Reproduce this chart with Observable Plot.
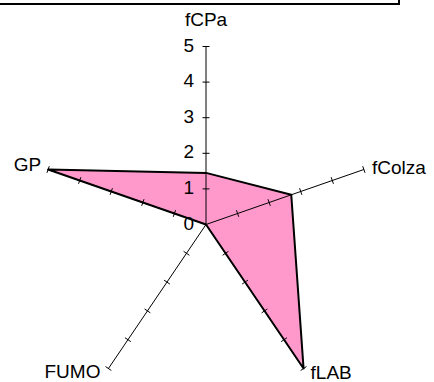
<!DOCTYPE html>
<html>
<head>
<meta charset="utf-8">
<script src="https://cdn.jsdelivr.net/npm/d3@7"></script>
<script src="https://cdn.jsdelivr.net/npm/@observablehq/plot@0.6"></script>
<style>
  html, body { margin: 0; padding: 0; background: #fff; }
  #wrap { position: relative; width: 434px; height: 382px; overflow: hidden; }
  #box { position: absolute; left: -5px; top: -10px; width: 405px; height: 15px; border: 2px solid #000; box-sizing: border-box; }
</style>
</head>
<body>
<div id="wrap"><div id="box"></div><div id="chart"></div></div>
<script>
const axesNames = ["fCPa", "fColza", "fLAB", "FUMO", "GP"];
const seriesValues = [1.45, 2.7, 5, 0, 5];
const tickValues = [0, 1, 2, 3, 4, 5];
const maxValue = 5;

// scales (pixel layout)
const xRange = [39.5, 371.5];
const yRange = [402, 46];
const sx = (xRange[1] - xRange[0]) / (2 * maxValue);
const sy = (yRange[0] - yRange[1]) / (2 * maxValue);

const n = axesNames.length;
const ang = i => i * 2 * Math.PI / n;

const polygon = axesNames.map((name, i) => ({
  name, x: seriesValues[i] * Math.sin(ang(i)), y: seriesValues[i] * Math.cos(ang(i))
}));

const spokes = axesNames.map((name, i) => ({
  name, x2: maxValue * Math.sin(ang(i)), y2: maxValue * Math.cos(ang(i))
}));

const half = 3.5;
const tickMarks = [];
axesNames.forEach((name, i) => {
  const t = ang(i);
  const dx = sx * Math.sin(t), dy = -sy * Math.cos(t);
  const len = Math.hypot(dx, dy);
  const px = -dy / len, py = dx / len; // pixel perpendicular
  const ox = px * half / sx, oy = -py * half / sy; // data units
  tickValues.filter(v => v > 0).forEach(v => {
    const cx = v * Math.sin(t), cy = v * Math.cos(t);
    tickMarks.push({x1: cx - ox, y1: cy - oy, x2: cx + ox, y2: cy + oy});
  });
});

const labelStyle = [
  {textAnchor: "middle", dx: 0, dy: -27},
  {textAnchor: "start", dx: 8, dy: -2},
  {textAnchor: "start", dx: 7, dy: 4},
  {textAnchor: "end", dx: -8, dy: 3},
  {textAnchor: "end", dx: -7, dy: -5}
];

const font = "'Liberation Sans', Arial, sans-serif";
const fs = 19;

const chart = Plot.plot({
  width: 434,
  height: 382,
  margin: 0,
  x: {domain: [-maxValue, maxValue], range: xRange, axis: null},
  y: {domain: [-maxValue, maxValue], range: yRange, axis: null},
  style: {fontFamily: font, fontSize: fs + "px", background: "white", overflow: "visible"},
  marks: [
    Plot.line(polygon, {x: "x", y: "y", curve: "linear-closed", fill: "#FF99CC", stroke: "none"}),
    Plot.link(spokes, {x1: 0, y1: 0, x2: "x2", y2: "y2", stroke: "black", strokeWidth: 1}),
    Plot.link(tickMarks, {x1: "x1", y1: "y1", x2: "x2", y2: "y2", stroke: "black", strokeWidth: 1}),
    Plot.line(polygon, {x: "x", y: "y", curve: "linear-closed", fill: "none", stroke: "black", strokeWidth: 2}),
    Plot.text(tickValues, {x: 0, y: d => d, text: d => String(d), textAnchor: "end", dx: -12, dy: -1, fontSize: fs, fill: "black"}),
    ...spokes.map((s, i) => Plot.text([s], {x: "x2", y: "y2", text: "name", fontSize: fs, fill: "black", ...labelStyle[i]}))
  ]
});
document.getElementById("chart").appendChild(chart);
</script>
</body>
</html>
